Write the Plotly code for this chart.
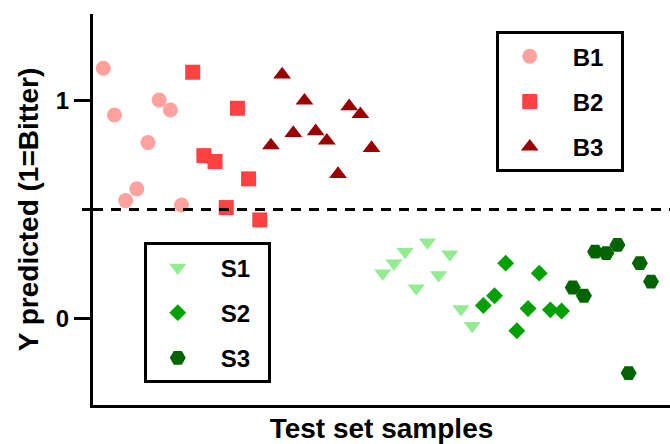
import plotly.graph_objects as go

# ---- data ----
b1_x = [0, 1, 2, 3, 4, 5, 6, 7]
b1_y = [1.150, 0.935, 0.541, 0.595, 0.808, 1.004, 0.958, 0.521]
b2_x = [8, 9, 10, 11, 12, 13, 14]
b2_y = [1.132, 0.748, 0.721, 0.509, 0.966, 0.641, 0.452]
b3_x = [15, 16, 17, 18, 19, 20, 21, 22, 23, 24]
b3_y = [0.795, 1.121, 0.852, 1.001, 0.860, 0.817, 0.663, 0.975, 0.939, 0.783]
s1_x = [25, 26, 27, 28, 29, 30, 31, 32, 33]
s1_y = [0.206, 0.252, 0.306, 0.137, 0.349, 0.198, 0.294, 0.042, -0.035]
s2_x = [34, 35, 36, 37, 38, 39, 40, 41]
s2_y = [0.058, 0.103, 0.253, -0.058, 0.044, 0.207, 0.038, 0.033]
s3_x = [42, 43, 44, 45, 46, 47, 48, 49]
s3_y = [0.141, 0.103, 0.306, 0.299, 0.337, -0.253, 0.253, 0.168]
threshold = 0.5
y_tickvals = [0, 1]
y_ticktext = ["0", "1"]

FONT = "Liberation Sans, Arial, sans-serif"
LEAD = "\u2002"
TRAIL = "\u2002"

series = [
    ("B1", b1_x, b1_y, "circle", "#FFA19C", 15, "legend"),
    ("B2", b2_x, b2_y, "square", "#FF4141", 15, "legend"),
    ("B3", b3_x, b3_y, "triangle-up", "#990000", 15.5, "legend"),
    ("S1", s1_x, s1_y, "triangle-down", "#92EC92", 15, "legend2"),
    ("S2", s2_x, s2_y, "diamond", "#00A000", 13, "legend2"),
    ("S3", s3_x, s3_y, "hexagon2", "#006400", 16, "legend2"),
]

fig = go.Figure()
for name, xs, ys, sym, col, size, leg in series:
    fig.add_trace(go.Scatter(
        x=xs, y=ys, mode="markers", name=LEAD + name + TRAIL, legend=leg, legendgroup=name,
        marker=dict(symbol=sym, color=col, size=size, line=dict(width=0)),
    ))

fig.add_shape(type="line", xref="paper", yref="y", x0=0, x1=1, y0=threshold, y1=threshold,
              line=dict(color="black", width=3, dash="10px,8px"))

legend_common = dict(
    bgcolor="white", bordercolor="black", borderwidth=3,
    font=dict(family=FONT, size=24, color="black", weight="bold"),
    itemwidth=52, tracegroupgap=11, xanchor="left", yanchor="top",
    itemsizing="trace",
)

fig.update_layout(
    width=670, height=444,
    margin=dict(l=93, r=0, t=14, b=39),
    plot_bgcolor="white", paper_bgcolor="white",
    font=dict(family=FONT, color="black"),
    showlegend=True,
    legend=dict(x=0.698, y=0.956, **legend_common),
    legend2=dict(x=0.088, y=0.416, **legend_common),
    xaxis=dict(
        range=[-0.92, 50.7], showgrid=False, zeroline=False, showticklabels=False,
        ticks="", showline=True, linecolor="black", linewidth=3, automargin=False,
        title=dict(text="Test set samples", font=dict(family=FONT, size=28, weight="bold"), standoff=21),
    ),
    yaxis=dict(
        range=[-0.4, 1.4], showgrid=False, zeroline=False, automargin=False,
        tickvals=y_tickvals, ticktext=y_ticktext,
        ticks="outside", ticklen=16, tickwidth=3, tickcolor="black",
        minor=dict(dtick=0.5, tick0=0, ticks="outside", ticklen=8, tickwidth=3, tickcolor="black"),
        showline=True, linecolor="black", linewidth=3,
        tickfont=dict(family=FONT, size=24, weight="bold"),
        title=dict(text="Y predicted (1=Bitter)", font=dict(family=FONT, size=28, weight="bold"), standoff=10),
    ),
)

fig.write_html("out.html", config={"displayModeBar": False},
               post_script="document.body.style.margin='0px';")
